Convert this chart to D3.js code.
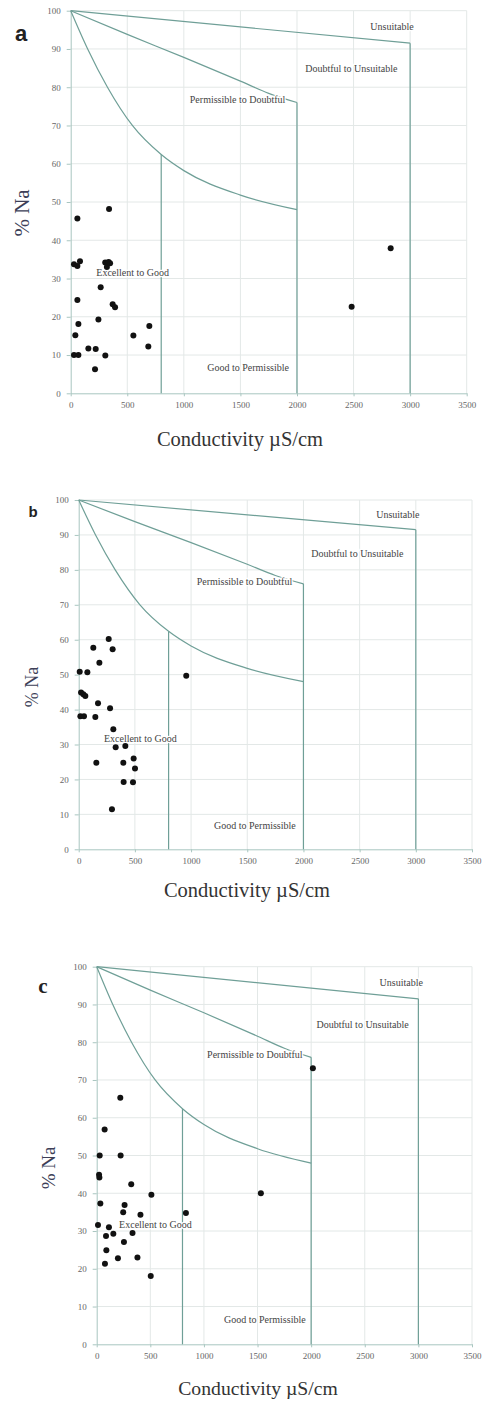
<!DOCTYPE html>
<html>
<head>
<meta charset="utf-8">
<script src="https://cdn.jsdelivr.net/npm/d3@7"></script>
<style>
  body { margin: 0; background: #fff; }
  svg { display: block; }
  .region { font-family: "Liberation Serif", serif; font-size: 10px; fill: #444;
            stroke: #fff; stroke-width: 2.5px; paint-order: stroke; }
</style>
</head>
<body>
<svg width="482" height="1404"></svg>
<script>
// axis ticks
var xTicks = [0, 500, 1000, 1500, 2000, 2500, 3000, 3500];
var yTicks = [0, 10, 20, 30, 40, 50, 60, 70, 80, 90, 100];

// Wilcox boundaries [conductivity, %Na]
var upperLine = [[0, 100], [3000, 91.5]];
var middleCurve = [[0, 100], [500, 93.8], [1000, 87.8], [1500, 81.6], [1750, 78.4], [2000, 76]];
var lowerCurve = [[0, 100], [150, 90], [325, 80], [545, 70], [800, 62.4], [1000, 58.2], [1500, 51.8], [2000, 48]];
var dropLines = [[800, 62.4], [2000, 76], [3000, 91.5]];

// class names and where they sit
var regionNames = ["Unsuitable", "Doubtful to Unsuitable", "Permissible to Doubtful", "Excellent to Good", "Good to Permissible"];
var regionX = [2840, 2480, 1475, 548, 1568];
var regionY = [95.9, 84.8, 76.8, 31.7, 6.7];

// samples
var pointsA = [[59, 45.7], [339, 48.2], [29, 33.7], [59, 33.3], [82, 34.5], [305, 34.2], [335, 34.3], [320, 33],
    [348, 34], [265, 27.7], [59, 24.4], [371, 23.3], [392, 22.5], [245, 19.3], [68, 18.1], [695, 17.6],
    [41, 15.2], [554, 15.1], [156, 11.7], [221, 11.6], [686, 12.2], [29, 10], [68, 10], [306, 9.9],
    [215, 6.3], [2483, 22.6], [2828, 37.9]];
var pointsB = [[267, 60.2], [130, 57.7], [302, 57.3], [184, 53.4], [9, 50.8], [77, 50.7], [957, 49.7],
    [21, 44.9], [41, 44.4], [59, 43.9], [172, 41.8], [279, 40.4], [15, 38.1], [47, 38.1], [148, 37.9],
    [308, 34.4], [329, 29.2], [415, 29.6], [157, 24.8], [397, 24.8], [489, 26], [501, 23.1], [400, 19.3],
    [483, 19.2], [296, 11.5]];
var pointsC = [[2016, 73.1], [220, 65.3], [74, 56.9], [28, 50], [223, 50], [22, 44.9], [25, 44.2],
    [322, 42.4], [510, 39.6], [1531, 40], [34, 37.3], [260, 36.9], [247, 35], [832, 34.8], [408, 34.3],
    [12, 31.6], [114, 31], [155, 29.3], [334, 29.5], [87, 28.7], [254, 27.1], [90, 24.9], [198, 22.8],
    [380, 23], [77, 21.3], [504, 18.1]];

// panel layout in page pixels
var panels = [
    { letter: "a", points: pointsA, left: 70.7, right: 466.7, top: 10.7, bottom: 393.3,
      letterX: 21, letterY: 41, letterFont: "bold 22px 'Liberation Sans', sans-serif",
      naX: 22, naY: 213, naSize: 21, condX: 240, condY: 439, condSize: 20.5 },
    { letter: "b", points: pointsB, left: 78.7, right: 472, top: 500, bottom: 849.3,
      letterX: 33, letterY: 517, letterFont: "bold 15px 'Liberation Sans', sans-serif",
      naX: 32, naY: 687, naSize: 18, condX: 247, condY: 890, condSize: 20.5 },
    { letter: "c", points: pointsC, left: 96.7, right: 472, top: 966.7, bottom: 1344.3,
      letterX: 43, letterY: 993, letterFont: "bold 21px 'Liberation Serif', serif",
      naX: 48, naY: 1168, naSize: 19, condX: 258, condY: 1388, condSize: 19.7 }
];

var svg = d3.select("svg");
svg.append("rect").attr("width", 482).attr("height", 1404).attr("fill", "#fff");

var lineColor = "#6f9f97";
var axisColor = "#a9c6c0";

function drawPanel(p) {
    var g = svg.append("g").attr("class", "panel-" + p.letter);

    var x = d3.scaleLinear().domain([0, 3500]).range([p.left, p.right]);
    var y = d3.scaleLinear().domain([0, 100]).range([p.bottom, p.top]);

    // grid
    g.append("g")
        .selectAll("line")
        .data(xTicks.slice(1))
        .join("line")
        .attr("x1", d => x(d)).attr("x2", d => x(d))
        .attr("y1", y(0)).attr("y2", y(100))
        .attr("stroke", "#e3e8e7");
    g.append("g")
        .selectAll("line")
        .data(yTicks.slice(1))
        .join("line")
        .attr("x1", x(0)).attr("x2", x(3500))
        .attr("y1", d => y(d)).attr("y2", d => y(d))
        .attr("stroke", "#e3e8e7");

    // axes
    var xAxis = d3.axisBottom(x).tickValues(xTicks).tickFormat(d3.format("d"))
        .tickSize(3).tickPadding(5).tickSizeOuter(0);
    var yAxis = d3.axisLeft(y).tickValues(yTicks).tickFormat(d3.format("d"))
        .tickSize(4).tickPadding(6).tickSizeOuter(0);

    var gx = g.append("g").attr("transform", "translate(0," + y(0) + ")").call(xAxis);
    var gy = g.append("g").attr("transform", "translate(" + x(0) + ",0)").call(yAxis);
    [gx, gy].forEach(function (a) {
        a.attr("font-family", "'Liberation Serif', serif").attr("font-size", 9);
        a.selectAll("path, line").attr("stroke", axisColor);
        a.selectAll("text").attr("fill", "#666");
    });

    // boundaries
    var line = d3.line().x(d => x(d[0])).y(d => y(d[1]));
    var curved = d3.line().x(d => x(d[0])).y(d => y(d[1])).curve(d3.curveMonotoneX);

    g.append("path").datum(upperLine).attr("d", line)
        .attr("fill", "none").attr("stroke", lineColor).attr("stroke-width", 1.2);
    g.append("path").datum(middleCurve).attr("d", curved)
        .attr("fill", "none").attr("stroke", lineColor).attr("stroke-width", 1.2);
    g.append("path").datum(lowerCurve).attr("d", curved)
        .attr("fill", "none").attr("stroke", lineColor).attr("stroke-width", 1.2);
    g.append("g")
        .selectAll("line")
        .data(dropLines)
        .join("line")
        .attr("x1", d => x(d[0])).attr("x2", d => x(d[0]))
        .attr("y1", d => y(d[1])).attr("y2", y(0))
        .attr("stroke", lineColor).attr("stroke-width", 1.2);

    // region names
    g.append("g")
        .selectAll("text")
        .data(regionNames)
        .join("text")
        .attr("class", "region")
        .attr("font-family", "'Liberation Serif', serif")
        .attr("x", (d, i) => x(regionX[i]))
        .attr("y", (d, i) => y(regionY[i]))
        .attr("dy", "0.35em")
        .attr("text-anchor", "middle")
        .text(d => d);

    // samples
    g.append("g")
        .selectAll("circle")
        .data(p.points)
        .join("circle")
        .attr("cx", d => x(d[0]))
        .attr("cy", d => y(d[1]))
        .attr("r", 3)
        .attr("fill", "#111");

    // titles
    g.append("text")
        .attr("x", p.letterX).attr("y", p.letterY)
        .attr("text-anchor", "middle")
        .style("font", p.letterFont)
        .attr("fill", "#222")
        .text(p.letter);

    g.append("text")
        .attr("transform", "translate(" + p.naX + "," + p.naY + ") rotate(-90)")
        .attr("dy", "0.35em")
        .attr("text-anchor", "middle")
        .attr("font-family", "'Liberation Serif', serif")
        .attr("font-size", p.naSize)
        .attr("fill", "#3d3f58")
        .text("% Na");

    g.append("text")
        .attr("x", p.condX).attr("y", p.condY)
        .attr("dy", "0.35em")
        .attr("text-anchor", "middle")
        .attr("font-family", "'Liberation Serif', serif")
        .attr("font-size", p.condSize)
        .attr("fill", "#333")
        .text("Conductivity µS/cm");
}

panels.forEach(drawPanel);
</script>
</body>
</html>
